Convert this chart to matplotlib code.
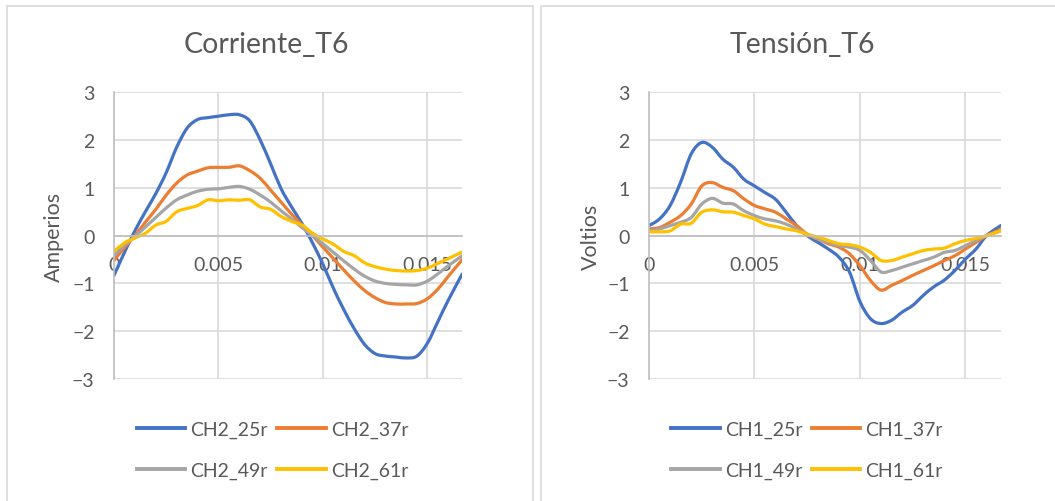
import numpy as np
import matplotlib.pyplot as plt
from matplotlib.patches import Rectangle, PathPatch
from matplotlib.path import Path
from matplotlib.lines import Line2D

# tiempo (s), malla común para todas las series
t = [0, 0.0005, 0.001, 0.0015, 0.002, 0.0025, 0.003, 0.0035, 0.004, 0.0045,
     0.005, 0.0055, 0.006, 0.0065, 0.007, 0.0075, 0.008, 0.0085, 0.009, 0.0095,
     0.01, 0.0105, 0.011, 0.0115, 0.012, 0.0125, 0.013, 0.0135, 0.014, 0.0145,
     0.015, 0.0155, 0.016, 0.01667]

# --- Corriente_T6 ---
ch2_25r = [-0.83, -0.35, 0.10, 0.50, 0.88, 1.32, 1.85, 2.25, 2.43, 2.47,
           2.50, 2.53, 2.53, 2.40, 2.00, 1.50, 0.98, 0.60, 0.25, -0.15,
           -0.60, -1.10, -1.55, -1.95, -2.28, -2.47, -2.52, -2.54, -2.56, -2.52,
           -2.25, -1.80, -1.35, -0.80]
ch2_37r = [-0.52, -0.25, 0.00, 0.28, 0.55, 0.85, 1.10, 1.27, 1.35, 1.42,
           1.43, 1.43, 1.46, 1.36, 1.20, 0.95, 0.70, 0.45, 0.22, 0.00,
           -0.24, -0.48, -0.72, -0.95, -1.15, -1.30, -1.40, -1.43, -1.43, -1.42,
           -1.32, -1.12, -0.85, -0.50]
ch2_49r = [-0.42, -0.20, -0.02, 0.18, 0.38, 0.58, 0.75, 0.85, 0.93, 0.97,
           0.98, 1.01, 1.03, 0.97, 0.85, 0.70, 0.52, 0.35, 0.17, 0.00,
           -0.17, -0.35, -0.53, -0.70, -0.85, -0.95, -1.00, -1.02, -1.03, -1.03,
           -0.95, -0.80, -0.63, -0.42]
ch2_61r = [-0.33, -0.15, -0.05, 0.05, 0.22, 0.30, 0.50, 0.57, 0.63, 0.75,
           0.73, 0.75, 0.74, 0.75, 0.60, 0.55, 0.40, 0.30, 0.22, 0.05,
           -0.07, -0.18, -0.33, -0.42, -0.57, -0.65, -0.70, -0.73, -0.74, -0.73,
           -0.68, -0.58, -0.48, -0.34]

# --- Tensión_T6 ---
ch1_25r = [0.21, 0.35, 0.63, 1.12, 1.71, 1.95, 1.85, 1.60, 1.43, 1.18,
           1.04, 0.90, 0.76, 0.49, 0.21, 0.00, -0.14, -0.28, -0.45, -0.76,
           -1.38, -1.74, -1.84, -1.77, -1.60, -1.46, -1.25, -1.07, -0.93, -0.73,
           -0.49, -0.28, 0.00, 0.21]
ch1_37r = [0.14, 0.17, 0.28, 0.42, 0.66, 1.04, 1.11, 1.01, 0.94, 0.77,
           0.63, 0.56, 0.49, 0.35, 0.21, 0.03, -0.07, -0.17, -0.24, -0.38,
           -0.63, -0.94, -1.14, -1.04, -0.94, -0.83, -0.73, -0.63, -0.52, -0.42,
           -0.28, -0.14, 0.00, 0.13]
ch1_49r = [0.10, 0.14, 0.21, 0.28, 0.38, 0.66, 0.78, 0.68, 0.66, 0.52,
           0.42, 0.35, 0.31, 0.24, 0.14, 0.03, -0.07, -0.14, -0.21, -0.24,
           -0.31, -0.52, -0.76, -0.73, -0.66, -0.59, -0.52, -0.45, -0.35, -0.31,
           -0.21, -0.10, 0.00, 0.10]
ch1_61r = [0.08, 0.08, 0.10, 0.24, 0.26, 0.49, 0.54, 0.50, 0.49, 0.42,
           0.35, 0.24, 0.19, 0.14, 0.10, 0.03, -0.03, -0.10, -0.17, -0.19,
           -0.24, -0.35, -0.52, -0.52, -0.45, -0.38, -0.31, -0.28, -0.26, -0.17,
           -0.10, -0.06, 0.00, 0.10]

x_ticks = [0, 0.005, 0.01, 0.015]
x_labels = ["0", "0.005", "0.01", "0.015"]
y_ticks = [-3, -2, -1, 0, 1, 2, 3]

colors = ["#4472C4", "#ED7D31", "#A5A5A5", "#FFC000"]
txt = "#595959"
grid = "#D9D9D9"

plt.rcParams['font.family'] = ['Lato', 'DejaVu Sans']

fig = plt.figure(figsize=(10.55, 5.02), dpi=100)
W, H = 1055, 502

# marcos de los dos gráficos
fig.patches.append(Rectangle((7 / W, -0.1), 526 / W, 1.1 - 7 / H, transform=fig.transFigure,
                             fill=False, edgecolor=grid, lw=1.2))
fig.patches.append(Rectangle((541 / W, -0.1), 0.6, 1.1 - 7 / H, transform=fig.transFigure,
                             fill=False, edgecolor=grid, lw=1.2))


def smooth_path(x, y):
    # línea suavizada como en Excel (Catmull-Rom dibujado con Bezier cúbicas)
    p = np.column_stack([x, y])
    verts = [p[0]]
    codes = [Path.MOVETO]
    n = len(p)
    for i in range(n - 1):
        p0 = p[i - 1] if i > 0 else p[i]
        p3 = p[i + 2] if i + 2 < n else p[i + 1]
        c1 = p[i] + (p[i + 1] - p0) / 6
        c2 = p[i + 1] - (p3 - p[i]) / 6
        verts += [c1, c2, p[i + 1]]
        codes += [Path.CURVE4] * 3
    return Path(verts, codes)


def panel(rect, series, names, title, title_x, ylabel, ylabel_x, legend_x):
    ax = fig.add_axes(rect)
    handles = []
    for y, c, n in zip(series, colors, names):
        ax.add_patch(PathPatch(smooth_path(t, y), facecolor='none', edgecolor=c, lw=2.3,
                               capstyle='round', joinstyle='round'))
        handles.append(Line2D([], [], color=c, lw=2.8, label=n))
    ax.set_xlim(0, 0.01667)
    ax.set_ylim(-3, 3)
    ax.set_xticks(x_ticks)
    ax.set_xticklabels(x_labels)
    ax.set_yticks(y_ticks)
    ax.grid(True, color=grid, lw=1.2)
    ax.set_axisbelow(True)
    for s in ['top', 'right']:
        ax.spines[s].set_visible(False)
    ax.spines['bottom'].set_position(('data', 0))
    ax.spines['bottom'].set_color('#BFBFBF')
    ax.spines['bottom'].set_linewidth(1.2)
    ax.spines['left'].set_color('#BFBFBF')
    ax.spines['left'].set_linewidth(1.2)
    ax.tick_params(axis='both', length=0, labelsize=14, labelcolor=txt)
    ax.tick_params(axis='x', pad=15)
    ax.tick_params(axis='y', pad=14)
    ax.set_ylabel(ylabel, fontsize=15.5, color=txt)
    ax.yaxis.set_label_coords(ylabel_x, 0.5)
    fig.text(title_x / W, 1 - 45 / H, title, fontsize=20.5, color=txt, ha='center', va='center')
    # orden por filas: 25r, 37r / 49r, 61r
    order = [handles[0], handles[2], handles[1], handles[3]]
    fig.legend(handles=order, loc='center', bbox_to_anchor=(legend_x / W, 1 - 451 / H),
               ncol=2, frameon=False, fontsize=14, labelcolor=txt, handlelength=2.5,
               handletextpad=0.25, columnspacing=0.5, labelspacing=1.25)
    return ax


panel([114 / W, 1 - 380 / H, 348.3 / W, 286.7 / H],
      [ch2_25r, ch2_37r, ch2_49r, ch2_61r],
      ["CH2_25r", "CH2_37r", "CH2_49r", "CH2_61r"],
      "Corriente_T6", 266.7, "Amperios", -0.143, 272.5)
panel([649 / W, 1 - 380 / H, 351.7 / W, 286.7 / H],
      [ch1_25r, ch1_37r, ch1_49r, ch1_61r],
      ["CH1_25r", "CH1_37r", "CH1_49r", "CH1_61r"],
      "Tensión_T6", 802, "Voltios", -0.137, 807)

fig.savefig("out.png", dpi=100)
